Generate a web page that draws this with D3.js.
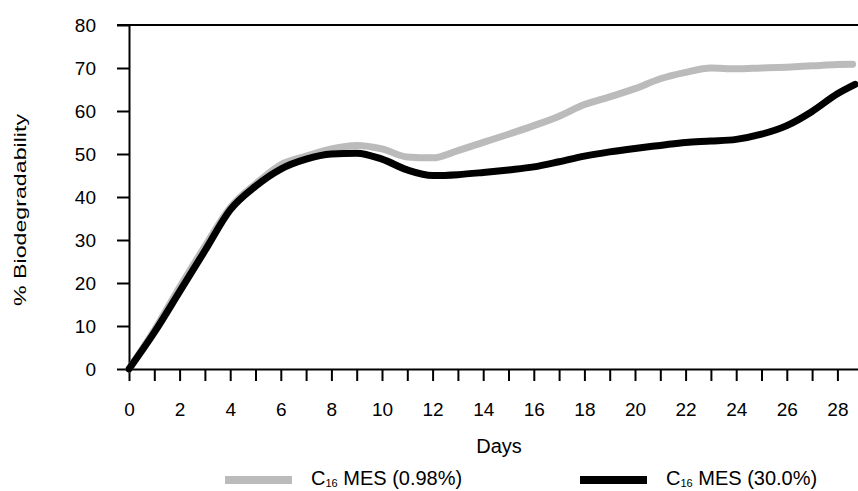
<!DOCTYPE html>
<html>
<head>
<meta charset="utf-8">
<script src="https://cdn.jsdelivr.net/npm/d3@7"></script>
<style>
  body { margin: 0; background: white; }
  svg { display: block; font-family: "Liberation Sans", Arial, sans-serif; }
</style>
</head>
<body>
<div id="chart"></div>
<script>
let w = 858;
let h = 491;

// data: [day, % biodegradability]
let lowConc = [[0,0],[1,9],[2,19],[3,28.5],[4,37.5],[5,43],[6,47.5],[7,49.5],[8,51.2],[9,52],[10,51.2],[11,49.3],[12,49.1],[13,50.8],[14,52.7],[15,54.6],[16,56.6],[17,58.8],[18,61.5],[19,63.3],[20,65.2],[21,67.5],[22,69],[23,70],[24,69.8],[25,70],[26,70.2],[27,70.5],[28,70.8],[28.6,70.9]];
let highConc = [[0,0],[1,8.5],[2,18],[3,27.5],[4,37],[5,42.5],[6,46.5],[7,48.8],[8,50],[9,50.2],[10,48.8],[11,46.3],[12,45],[13,45.2],[14,45.7],[15,46.3],[16,47],[17,48.2],[18,49.5],[19,50.5],[20,51.3],[21,52],[22,52.7],[23,53],[24,53.4],[25,54.6],[26,56.6],[27,59.9],[28,64],[28.7,66.2]];
let seriesNames = ["0.98%", "30.0%"];
let seriesColors = ["#bbbbbb", "#000000"];
let yTicks = [0, 10, 20, 30, 40, 50, 60, 70, 80];
let dayTicks = d3.range(0, 29);

let svg = d3.select("#chart")
  .append("svg")
  .attr("width", w)
  .attr("height", h);

let x = d3.scaleLinear().domain([0, 29]).range([129, 129 + 29 * 25.3]);
let y = d3.scaleLinear().domain([0, 80]).range([369, 25]);

// y axis
let yAxis = svg.append("g")
  .attr("transform", "translate(" + x(0) + ",0)")
  .call(d3.axisLeft(y).tickValues(yTicks).tickSize(12).tickSizeOuter(0).tickPadding(21));
yAxis.selectAll("text").attr("font-size", 19).attr("fill", "#000").attr("font-family", null);
yAxis.selectAll("line, path").attr("stroke", "#000").attr("stroke-width", 2);

// top border
svg.append("line")
  .attr("x1", x(0) - 12).attr("x2", w)
  .attr("y1", y(80)).attr("y2", y(80))
  .attr("stroke", "#000").attr("stroke-width", 2);

// x axis
let xAxis = svg.append("g")
  .attr("transform", "translate(0," + y(0) + ")")
  .call(d3.axisBottom(x).tickValues(dayTicks).tickSize(12).tickSizeOuter(0).tickPadding(22)
    .tickFormat(d => d % 2 == 0 ? d : ""));
xAxis.selectAll("text").attr("font-size", 19).attr("fill", "#000").attr("font-family", null);
xAxis.selectAll("line, path").attr("stroke", "#000").attr("stroke-width", 2);

// axis titles
svg.append("text")
  .attr("x", 499).attr("y", 453)
  .attr("text-anchor", "middle")
  .attr("font-size", 20)
  .text("Days");

svg.append("text")
  .attr("transform", "translate(26,210) rotate(-90)")
  .attr("text-anchor", "middle")
  .attr("font-size", 17)
  .attr("textLength", 192)
  .attr("lengthAdjust", "spacingAndGlyphs")
  .text("% Biodegradability");

// lines
let line = d3.line()
  .x(d => x(d[0]))
  .y(d => y(d[1]))
  .curve(d3.curveMonotoneX);

svg.selectAll("path.series")
  .data([lowConc, highConc])
  .join("path")
  .attr("class", "series")
  .attr("d", line)
  .attr("fill", "none")
  .attr("stroke", (d, i) => seriesColors[i])
  .attr("stroke-width", 7)
  .attr("stroke-linejoin", "round")
  .attr("stroke-linecap", "round");

// legend
let legend = svg.selectAll("g.legend")
  .data(seriesNames)
  .join("g")
  .attr("class", "legend")
  .attr("transform", (d, i) => "translate(" + [225, 580][i] + ",0)");

legend.append("rect")
  .attr("x", 0).attr("y", 476)
  .attr("width", 67).attr("height", 8)
  .attr("fill", (d, i) => seriesColors[i]);

let lt = legend.append("text")
  .attr("x", 86).attr("y", 485)
  .attr("font-size", 20);
lt.append("tspan").text("C");
lt.append("tspan").attr("font-size", 11).attr("dy", 2).text("16");
lt.append("tspan").attr("dy", -2).text(d => " MES (" + d + ")");
</script>
</body>
</html>
